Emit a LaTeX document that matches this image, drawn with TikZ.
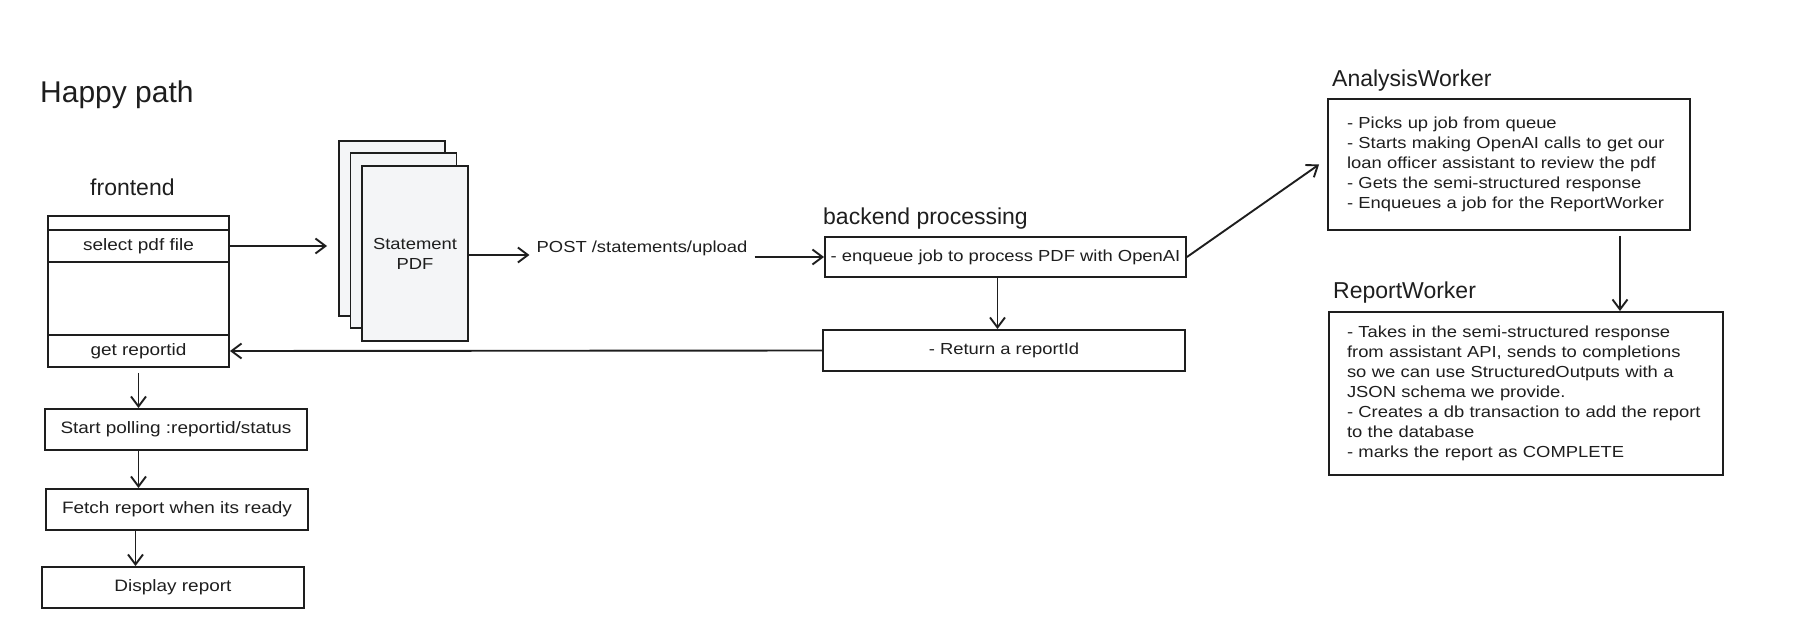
\documentclass[tikz,border=0pt]{standalone}
\usepackage{fontspec}
\setmainfont{Liberation Sans}
\newfontfamily\widefont{Liberation Sans}[FakeStretch=1.15]
\usetikzlibrary{arrows.meta}
\definecolor{ink}{HTML}{1E1E1E}
\definecolor{paper}{HTML}{F4F5F7}

\begin{document}
\begin{tikzpicture}[x=1pt, y=-1pt,
  box/.style={draw=ink, line width=1.9pt, inner sep=0pt, text=ink, font=\widefont\fontsize{16.5}{18}\selectfont},
  page/.style={box, fill=paper, minimum width=106pt, minimum height=175pt, font=\widefont\fontsize{16}{20}\selectfont},
  note/.style={box, align=left, font=\widefont\fontsize{16}{20}\selectfont},
  head/.style={text=ink, inner sep=0pt, anchor=base west, font=\fontsize{23}{26}\selectfont},
  arr/.style={draw=ink, line width=1.9pt, -{Straight Barb[length=10pt, width=15pt, line width=1.9pt]}}]
\useasboundingbox (0,0) rectangle (1793,618);

% Titles
\node[head, font=\fontsize{30}{34}\selectfont] (happy) at (40,102) {Happy path};
\node[head] (felabel) at (90,195) {frontend};
\node[head] (belabel) at (823,224) {backend processing};
\node[head] (awlabel) at (1332,86) {AnalysisWorker};
\node[head] (rwlabel) at (1333,298) {ReportWorker};

% Frontend column
\node[box, minimum width=181pt, minimum height=151pt] (fe) at (138.5,291.5) {};
\node[box, minimum width=181pt, minimum height=32pt] (selectrow) at (138.5,246) {select pdf file};
\node[box, minimum width=181pt, minimum height=32pt] (getrow) at (138.5,351) {get reportid};
\node[box, minimum width=262pt, minimum height=41pt] (poll) at (176,429.5) {Start polling :reportid/status};
\node[box, minimum width=262pt, minimum height=41pt] (fetch) at (177,509.5) {Fetch report when its ready};
\node[box, minimum width=262pt, minimum height=41pt] (display) at (173,587.5) {Display report};

% Stacked pdf pages
\node[page] (pdfback) at (392,228.5) {};
\node[page] (pdfmid) at (403.5,240.5) {};
\node[page, align=center] (pdf) at (415,253.5) {Statement\\PDF};

% Backend
\node[text=ink, inner xsep=7pt, font=\widefont\fontsize{16}{20}\selectfont] (post) at (642,248) {POST /statements/upload};
\node[note, minimum width=361pt, minimum height=40pt] (enqueue) at (1005.5,257) {- enqueue job to process PDF with OpenAI};
\node[note, minimum width=362pt, minimum height=41pt] (return) at (1004,350.5) {- Return a reportId};

% Workers
\node[note, minimum width=362pt, minimum height=131pt, text width=324pt, inner xsep=19pt] (aw) at (1509,164.5)
  {- Picks up job from queue\\- Starts making OpenAI calls to get our\\loan officer assistant to review the pdf\\- Gets the semi-structured response\\- Enqueues a job for the ReportWorker};
\node[note, minimum width=394pt, minimum height=163pt, text width=358pt, inner xsep=18pt] (rw) at (1526,393.5)
  {- Takes in the semi-structured response\\from assistant API, sends to completions\\so we can use StructuredOutputs with a\\JSON schema we provide.\\- Creates a db transaction to add the report\\to the database\\- marks the report as COMPLETE};

% Connectors
\coordinate (pdfin) at ([xshift=-11pt]selectrow.east -| pdfback.west);
\draw[arr] (selectrow.east) -- (pdfin);
\draw[arr] (pdf.east |- 0,255) -- (post.west |- 0,255);
\draw[arr] (post.east |- enqueue.west) -- (enqueue.west);
\draw[arr] ([xshift=-8pt]enqueue.south) -- ([xshift=-8pt]enqueue.south |- return.north);
\draw[arr] (return.west) -- (getrow.east);
\coordinate (awin) at ([xshift=-8pt]aw.west);
\draw[arr] (enqueue.east) -- (awin);
\draw[arr] ([shift={(111,5)}]aw.south) -- ([xshift=111pt]aw.south |- rw.north);
\draw[arr] ([yshift=-5pt]getrow.south) -- (poll.north -| getrow.south);
\draw[arr] (poll.south -| getrow.south) -- (fetch.north -| getrow.south);
\draw[arr] ([xshift=-3pt]fetch.south -| getrow.south) -- ([xshift=-3pt]display.north -| getrow.south);
\end{tikzpicture}
\end{document}
